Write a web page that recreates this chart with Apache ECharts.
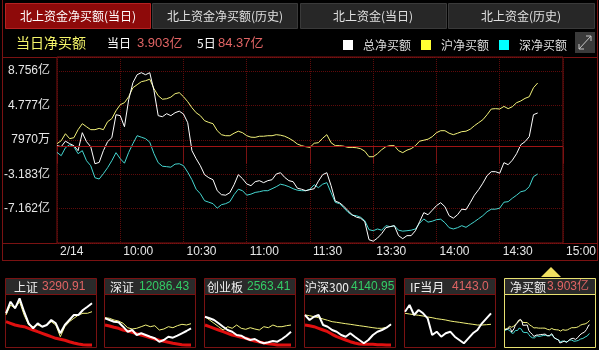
<!DOCTYPE html>
<html><head><meta charset="utf-8">
<script src="https://cdn.jsdelivr.net/npm/echarts@6/dist/echarts.min.js"></script>
<style>html,body{margin:0;padding:0;background:#000;}#c{width:599px;height:350px;}</style>
</head><body><div id="c"></div>
<script>
// ---------- main chart data (亿元), one sample every 2 minutes from 9:30 ----------
const xTickLabels = ['2/14','10:00','10:30','11:00','11:30','13:30','14:00','14:30','15:00'];
const yTickValues = [8.756, 4.777, 0.797, -3.183, -7.162];
const yTickLabels = ['8.756亿','4.777亿','7970万','-3.183亿','-7.162亿'];
const seriesNames = ['总净买额','沪净买额','深净买额'];
const totalNet = [0.12,0.00,0.64,0.35,0.12,-0.46,1.62,0.58,0.00,-1.97,-1.82,-0.46,0.58,1.04,3.70,3.59,2.31,5.44,7.40,8.33,8.56,8.33,8.56,6.48,3.59,3.47,3.82,3.59,3.93,4.11,3.78,2.78,-0.46,-1.39,-2.20,-3.24,-3.59,-3.82,-5.09,-5.55,-5.61,-5.32,-4.40,-3.24,-3.70,-4.31,-4.51,-4.05,-3.93,-4.16,-3.93,-3.82,-3.16,-3.01,-3.55,-3.93,-4.05,-4.80,-4.92,-5.09,-4.97,-4.86,-3.99,-3.24,-3.01,-4.51,-6.30,-6.48,-6.88,-7.40,-7.87,-8.15,-8.27,-8.68,-10.76,-10.93,-10.58,-10.06,-9.37,-9.25,-9.14,-10.29,-10.64,-10.29,-10.29,-9.72,-8.68,-7.63,-7.87,-7.35,-6.82,-6.48,-6.94,-7.98,-8.27,-7.87,-7.23,-7.29,-6.48,-5.61,-4.97,-4.22,-3.35,-2.89,-2.89,-3.07,-1.85,-2.08,-1.56,-0.81,0.23,0.58,1.16,3.70,3.90];
const shNet = [0.35,0.69,1.50,0.93,1.04,1.97,2.66,2.31,1.97,1.97,2.12,1.97,2.89,3.24,4.16,4.86,5.09,5.78,6.82,7.17,7.52,7.63,7.81,6.71,5.90,5.49,5.55,5.73,6.13,6.25,5.78,5.21,4.51,3.93,3.59,3.01,2.81,2.66,1.85,1.39,1.27,1.27,1.56,1.79,1.62,1.27,1.10,1.08,1.21,1.21,1.27,1.27,1.39,1.33,1.21,0.98,0.69,0.31,0.12,0.00,-0.08,0.40,0.46,0.98,1.39,0.46,0.12,0.12,0.06,-0.08,-0.08,-0.12,-0.23,-0.52,-1.16,-1.16,-0.81,-0.35,0.00,0.12,0.12,-0.46,-0.69,-0.40,-0.23,0.12,0.64,0.75,0.87,1.16,1.62,1.85,1.85,1.56,1.39,1.56,1.74,1.79,2.02,2.43,2.78,3.12,3.70,4.36,4.40,4.36,4.66,4.40,4.63,5.09,5.29,5.59,5.78,6.82,7.37];
const szNet = [-0.66,-1.04,-0.12,0.23,0.00,-0.81,-0.46,-1.62,-2.20,-3.59,-3.74,-3.12,-2.43,-1.62,-0.69,-1.39,-1.91,-0.66,0.35,1.27,1.10,0.93,0.52,-0.81,-1.85,-2.26,-2.31,-2.37,-2.02,-1.97,-2.20,-2.95,-3.82,-4.92,-5.44,-6.25,-6.42,-6.59,-7.11,-6.71,-6.59,-6.36,-5.55,-4.92,-5.09,-5.61,-5.49,-5.29,-5.21,-5.09,-5.09,-4.86,-4.63,-4.34,-4.45,-4.63,-4.86,-5.03,-5.09,-5.09,-4.92,-4.40,-4.74,-4.34,-4.16,-5.32,-6.44,-6.59,-7.06,-7.58,-7.92,-7.98,-8.16,-8.56,-9.60,-9.72,-9.52,-9.66,-9.14,-9.25,-9.14,-9.66,-9.77,-9.72,-9.66,-9.52,-8.85,-8.36,-8.73,-8.62,-8.44,-8.39,-8.79,-9.37,-9.52,-9.37,-9.14,-9.33,-9.00,-8.68,-8.33,-7.98,-7.52,-7.23,-7.23,-7.11,-6.42,-6.36,-5.96,-5.61,-5.21,-5.09,-4.63,-3.47,-3.16];
const sampleMinutes = 2;

// ---------- mini panels: relative levels read from the thumbnails ----------
const miniTitles = ['上证','深证','创业板','沪深300','IF当月','净买额'];
const miniValues = ['3290.91','12086.43','2563.41','4140.95','4143.0','3.903亿'];
const shWhite = [34.7,46.3,39.7,49.7,36.3,24.7,19.7,24.7,21.3,23,28,24.7,14.7,23,28,33,33,38,41.3,44.7];
const shAvg   = [33,43,39.7,46.3,33,23,21.3,23,21.3,23,26.3,23,11.3,21.3,26.3,29.7,33,34.7,34.7,36.3];
const shRed   = [26.3,24.7,23,22,21.3,19.7,18,16.3,14.7,13,11.3,9.7,8.7,7.7,6.3,5,4,3.3,3,3];
const szWhite = [29.7,28,26.3,25.7,21.3,16.3,18,13,14.7,13,11.3,9.7,6.3,8,11.3,10.3,12.3,14.7,17,19.7];
const szAvg   = [30.3,29.7,28,27,24.7,20.3,19,19.7,21.3,23,21.3,22.3,18,19,21.3,20.3,22.3,23.7,23,24.3];
const szRed   = [23,22,20.7,19.7,18,17,15.7,14.3,13,11.7,10.3,9,7.7,6.7,5.7,4.7,4,3.3,3,3];
const cyWhite = [31.3,29.7,28,24.7,21.3,18,16.3,13,12.3,9.7,8,9,6.3,4.7,5.7,7,6.3,9,12.3,16.3];
const cyAvg   = [31.3,28,24.7,21.3,18,21.3,19.7,23,19.7,18.7,20.3,19,18,21.3,20.3,23,21.3,21.3,22.3,23];
const cyRed   = [23,21.3,19.7,18,16.3,14.7,13,12,10.7,9.7,8.3,7,6,5,4.3,3.7,3,3,3,3];
const hsWhite = [33,28,31.3,33,23,21.3,18,16.3,13,11.3,14.7,11.3,8,4.7,8,13,16.3,18,20.3,23.7];
const hsAvg   = [33,32.3,31.3,30.3,29,27.7,26.3,25.7,25,24.3,23.7,23,22.3,21.7,21,20.3,19.7,19.7,20.7,23];
const hsRed   = [23,22.3,21.3,19.7,18,16.3,13.7,11.3,9.7,8,6.3,5,4,3.7,3.7,3.7,3.3,3.3,3,3];
const ifWhite = [36.3,43,33,38,34.7,29.7,13,16.3,11.3,14.7,16.3,11.3,8,4.7,9.7,14.7,18,24.7,29.7,34.7];
const ifAvg   = [34.7,34,33.3,32.7,32,31,30.3,29.3,28.7,28,27,26.3,25.7,25,24.3,23.7,23,23,23.3,23.7];

const chart = echarts.init(document.getElementById('c'), null, {renderer:'canvas'});

const RED = '#7a1212', GRIDRED = '#5e0b0b';
const CJK = "'Noto Sans CJK SC','Liberation Sans',sans-serif";
const NUM = "'Liberation Sans','Noto Sans CJK SC',sans-serif";
const toPairs = arr => arr.map((v, i) => [i * sampleMinutes, v]);

const grids = [{left:57, top:57, width:515, height:186, show:true, borderColor:RED, borderWidth:1, backgroundColor:'transparent'}];
const xAxes = [{
  gridIndex:0, type:'value', min:0, max:240, interval:30,
  axisLine:{show:false},
  axisTick:{show:true, length:17, lineStyle:{color:RED}},
  splitLine:{show:true, lineStyle:{color:GRIDRED, type:'dotted'}},
  axisLabel:{color:'#e6e6e6', fontSize:12, fontFamily:NUM, align:'left', margin:3, padding:[0,0,0,3],
    formatter: v => xTickLabels[Math.round(v/30)] || ''}
}];
const yAxes = [{
  gridIndex:0, type:'value', min:-11.1415, max:10.3765, interval:3.9795,
  axisLine:{show:false}, axisTick:{show:false},
  splitLine:{show:true, lineStyle:{color:GRIDRED, type:'dotted'}},
  axisLabel:{color:'#e6e6e6', fontSize:12, fontFamily:NUM, margin:7, showMinLabel:false, showMaxLabel:false,
    formatter: v => { const i = yTickValues.findIndex(t => Math.abs(t - v) < 0.01); return i >= 0 ? yTickLabels[i] : ''; }}
}];

const series = [
  {name:seriesNames[1], type:'line', xAxisIndex:0, yAxisIndex:0, data:toPairs(shNet), showSymbol:false, color:'#f2f27a', lineStyle:{width:1, color:'#f2f27a'}, animation:false},
  {name:seriesNames[2], type:'line', xAxisIndex:0, yAxisIndex:0, data:toPairs(szNet), showSymbol:false, color:'#45d6d0', lineStyle:{width:1, color:'#45d6d0'}, animation:false},
  {name:seriesNames[0], type:'line', xAxisIndex:0, yAxisIndex:0, data:toPairs(totalNet), showSymbol:false, color:'#ffffff', lineStyle:{width:1, color:'#ffffff'}, animation:false,
    markLine:{silent:true, symbol:['none','none'], label:{show:false}, lineStyle:{color:'#a01414', type:'solid', width:1}, data:[{yAxis:0}]}}
];

// mini panels
const panelX = [5, 104, 204, 304, 404, 504];
const miniSets = [
  [shRed, shAvg, shWhite], [szRed, szAvg, szWhite], [cyRed, cyAvg, cyWhite], [hsRed, hsAvg, hsWhite], [null, ifAvg, ifWhite]
];
miniSets.forEach((set, k) => {
  const gi = k + 1;
  grids.push({left:panelX[k] + 1, top:294, width:86, height:54});
  xAxes.push({gridIndex:gi, type:'category', boundaryGap:false, data:shWhite.map((_, i) => i), show:false});
  yAxes.push({gridIndex:gi, type:'value', min:0, max:54, show:false});
  const styles = [{c:'#e01010', w:3}, {c:'#f2f27a', w:1}, {c:'#ffffff', w:2}];
  set.forEach((arr, j) => {
    if (!arr) return;
    series.push({name:'mini' + k + '_' + j, type:'line', xAxisIndex:gi, yAxisIndex:gi, data:arr, showSymbol:false, silent:true,
      lineStyle:{width:styles[j].w, color:styles[j].c}, itemStyle:{color:styles[j].c}, animation:false});
  });
});
// panel 6: thumbnail of the main chart
grids.push({left:505, top:295, width:89, height:52});
xAxes.push({gridIndex:6, type:'value', min:0, max:240, show:false});
yAxes.push({gridIndex:6, type:'value', min:-14, max:28, show:false});
[[shNet,'#f2f27a'],[szNet,'#45d6d0'],[totalNet,'#ffffff']].forEach((p, j) => {
  series.push({name:'thumb' + j, type:'line', xAxisIndex:6, yAxisIndex:6, data:toPairs(p[0]), showSymbol:false, silent:true,
    lineStyle:{width:1, color:p[1]}, itemStyle:{color:p[1]}, animation:false});
});

// static decoration
const txt = (text, x, y, fill, font, align) => ({type:'text', silent:true, style:{text, x, y, fill, font, textAlign:align||'left', align:align||'left', textVerticalAlign:'middle', verticalAlign:'middle'}});
const ln = (x1, y1, x2, y2, c) => ({type:'line', silent:true, shape:{x1, y1, x2, y2}, style:{stroke:c||RED, lineWidth:1}});
const graphic = [
  ln(2.5, 0, 2.5, 260.5), ln(597.5, 0, 597.5, 260.5),
  ln(2, 57.5, 598, 57.5), ln(2, 243.5, 598, 243.5), ln(2, 260.5, 598, 260.5),
  {type:'rect', silent:true, shape:{x:5.5, y:3.5, width:145, height:25}, style:{fill:'#8e0a0a', stroke:'#b52222', lineWidth:1}},
  {type:'rect', silent:true, shape:{x:152.5, y:3.5, width:145, height:25}, style:{fill:'#272727', stroke:'#3a3a3a', lineWidth:1}},
  {type:'rect', silent:true, shape:{x:300.5, y:3.5, width:146, height:25}, style:{fill:'#272727', stroke:'#3a3a3a', lineWidth:1}},
  {type:'rect', silent:true, shape:{x:448.5, y:3.5, width:146, height:25}, style:{fill:'#272727', stroke:'#3a3a3a', lineWidth:1}},
  txt('北上资金净买额(当日)', 78, 16, '#ffffff', '12px ' + CJK, 'center'),
  txt('北上资金净买额(历史)', 225, 16, '#e0e0e0', '12px ' + CJK, 'center'),
  txt('北上资金(当日)', 373, 16, '#e0e0e0', '12px ' + CJK, 'center'),
  txt('北上资金(历史)', 521, 16, '#e0e0e0', '12px ' + CJK, 'center'),
  txt('当日净买额', 16, 43, '#f5f56a', '14px ' + CJK),
  txt('当日', 107, 43, '#ffffff', '12px ' + CJK),
  txt('3.903亿', 137, 43, '#e06464', '13px ' + NUM),
  txt('5日', 197, 43, '#ffffff', '12px ' + CJK),
  txt('84.37亿', 218, 43, '#e06464', '13px ' + NUM),
  {type:'rect', silent:true, shape:{x:575, y:32, width:20, height:21}, style:{fill:'#3a3a3a'}},
  {type:'polyline', silent:true, shape:{points:[[579,49],[591,36]]}, style:{stroke:'#c8c8c8', lineWidth:1, fill:null}},
  {type:'polyline', silent:true, shape:{points:[[586,36],[591,36],[591,41]]}, style:{stroke:'#c8c8c8', lineWidth:1, fill:null}},
  {type:'polyline', silent:true, shape:{points:[[579,44],[579,49],[584,49]]}, style:{stroke:'#c8c8c8', lineWidth:1, fill:null}},
  {type:'polygon', silent:true, shape:{points:[[541,277],[551,267],[561,277]]}, style:{fill:'#f0e060'}}
];
const nameX = [14, 110, 207, 305, 410, 510];
const valX = [42, 139, 247, 351, 452, 547];
const valColor = ['#e06464', '#33cc66', '#33cc66', '#33cc66', '#e06464', '#e06464'];
panelX.forEach((x, k) => {
  const border = k === 5 ? '#e8e070' : RED;
  graphic.push({type:'rect', silent:true, shape:{x:x + 0.5, y:278.5, width:91, height:16}, style:{fill:'#2a2a2a', stroke:border, lineWidth:1}});
  graphic.push({type:'rect', silent:true, shape:{x:x + 0.5, y:294.5, width:91, height:53}, style:{fill:'none', stroke:border, lineWidth:1}});
  graphic.push(txt(miniTitles[k], nameX[k], 287, '#f0f0f0', '12px ' + CJK));
  graphic.push(txt(miniValues[k], valX[k], 287, valColor[k], '12px ' + NUM));
});

chart.setOption({
  backgroundColor:'#000000',
  animation:false,
  grid:grids, xAxis:xAxes, yAxis:yAxes, series,
  legend:{
    left:338, top:34, itemWidth:10, itemHeight:10, itemGap:10, icon:'rect', selectedMode:false,
    textStyle:{color:'#dddddd', fontSize:12, fontFamily:CJK, padding:[0,0,0,5]},
    data:[
      {name:seriesNames[0], itemStyle:{color:'#ffffff'}},
      {name:seriesNames[1], itemStyle:{color:'#ffff33'}},
      {name:seriesNames[2], itemStyle:{color:'#00ffff'}}
    ]
  },
  graphic
});
</script></body></html>
